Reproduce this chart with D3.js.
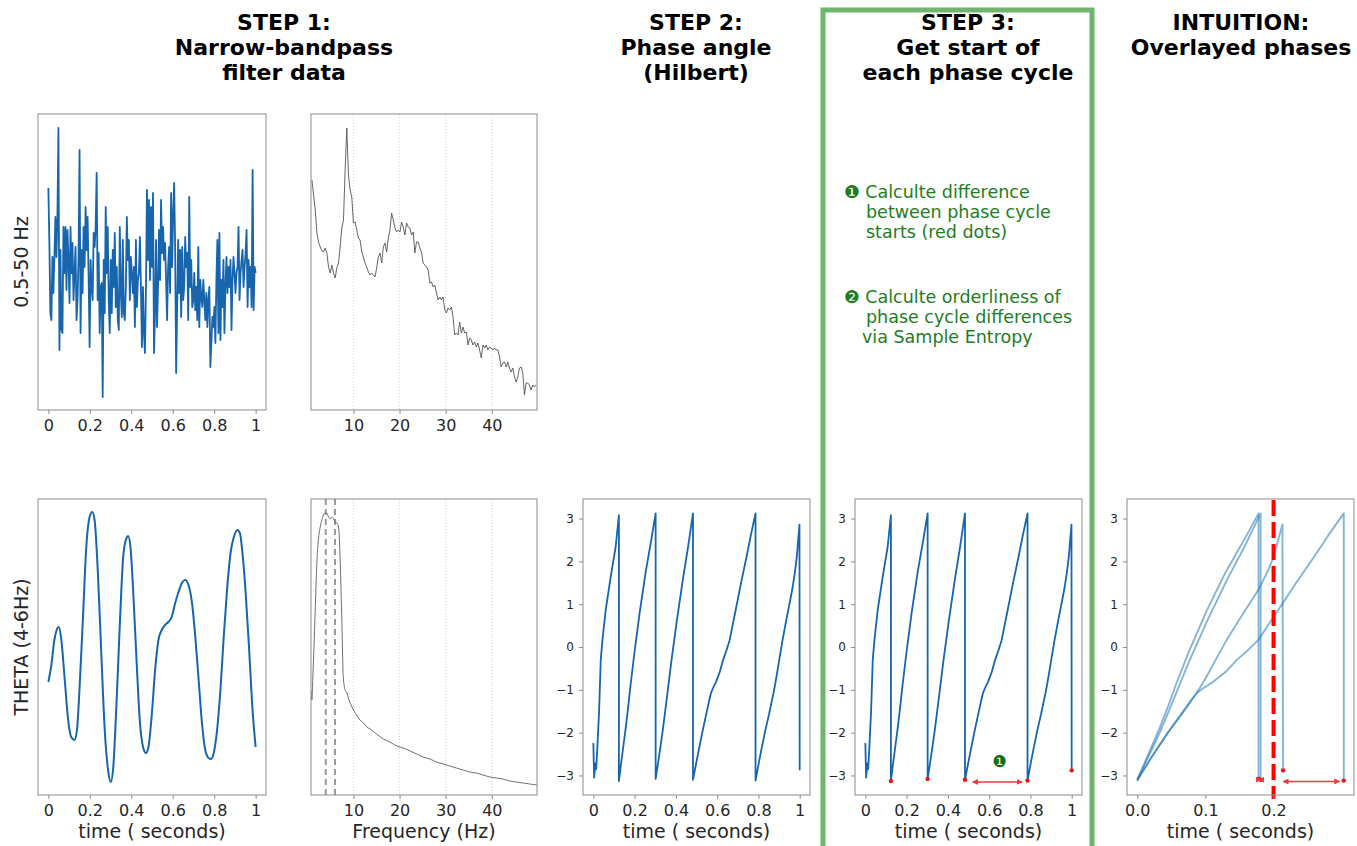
<!DOCTYPE html>
<html>
<head>
<meta charset="utf-8">
<script src="https://cdn.jsdelivr.net/npm/d3@7"></script>
<style>
  body { margin: 0; background: #fff; }
  svg { display: block; font-family: "DejaVu Sans", sans-serif; }
</style>
</head>
<body>
<svg id="fig" width="1357" height="846"></svg>
<script>
// ---------------- data ----------------
// Broadband (0.5-50 Hz) EEG segment, 1 s, microvolts
const broadband = [7.4, 1.9, -5.1, -5.8, 0.5, -3.1, 0.5, 4.5, 0.5, 4.5,
  13.4, -8.8, 1.2, -6.8, -7.1, 3.5, -1.1, 3.5, -2.8, 3.2,
  0.2, -4.1, 3.5, -1.1, 1.9, -3.8, -1.1, 1.5, -5.8, -3.8,
  0.5, 11.2, -7.1, 1.2, -3.1, 3.5, -0.5, 5.5, 1.2, 4.5,
  -1.5, -8.5, 0.2, -2.5, -3.8, 2.9, 1.5, 3.5, 8.9, -3.8,
  0.9, -7.1, -2.5, -2.1, -13.5, 0.2, -5.1, 5.5, -1.1, 3.5,
  -3.8, -7.1, 0.2, -5.1, 1.2, -2.5, 2.9, -4.5, -0.5, -5.8,
  -6.8, 3.5, -3.1, -5.5, 2.2, -5.1, -5.8, -2.5, 4.5, 0.2,
  2.2, -3.8, 0.5, -1.1, -3.1, -0.5, -6.5, 2.2, -4.5, -1.8,
  -1.1, 2.5, -2.5, -8.5, -2.5, -7.1, -9.1, -2.5, 7.2, 0.2,
  6.2, -1.8, 5.5, -0.5, 6.9, -9.1, -5.1, 2.2, -6.5, -2.5,
  3.2, -1.8, 6.2, 0.9, 3.5, 0.2, 1.9, -1.8, -5.8, -0.5,
  1.5, -3.1, 6.9, -0.5, 4.9, 7.9, 1.5, -11.1, -4.5, 2.2,
  -3.1, 1.2, -5.5, 1.5, -3.8, -2.5, 2.5, -0.5, 0.9, -5.8,
  6.5, -2.5, 0.2, -4.5, -3.8, -1.1, -4.8, -2.5, -5.8, 1.5,
  -6.5, -1.8, -3.5, -4.5, -1.8, -3.8, -5.8, -3.1, -6.5, -3.8,
  -2.5, -10.5, -8.1, -5.5, -6.5, -4.5, -8.1, -1.8, 2.2, -7.1,
  2.9, -7.8, -1.8, -4.5, 0.2, -7.1, -2.5, 0.5, -3.1, -0.5,
  -2.5, 0.2, -6.8, -1.8, 0.5, -1.1, -3.1, -1.1, -0.5, 3.5,
  -3.8, -1.1, 0.2, 1.2, -2.5, -0.5, 0.9, 3.2, -4.5, 0.2,
  -2.5, -0.5, -4.5, 9.2, -4.8, -0.5, -1.1];

// Broadband power spectrum (dB, relative), first bin and bin width in Hz
const psdStartHz = 1.0;
const psdStepHz = 0.36;
const broadbandPsd = [23.0, 21.5, 20.0, 17.7, 16.8, 16.3, 15.9, 15.8, 16.2, 15.7,
  14.3, 13.7, 14.5, 13.7, 13.2, 14.2, 14.7, 16.3, 18.2, 19.0,
  24.0, 28.2, 23.5, 22.0, 21.3, 18.7, 18.8, 18.0, 17.2, 17.0,
  15.8, 15.3, 14.7, 14.3, 13.8, 13.5, 13.7, 13.5, 13.3, 14.2,
  15.3, 15.7, 14.7, 16.3, 16.7, 15.8, 17.2, 18.0, 19.7, 19.0,
  18.2, 17.8, 18.0, 17.8, 18.8, 18.3, 17.5, 18.7, 18.3, 18.2,
  17.5, 17.8, 15.7, 16.8, 16.8, 16.2, 15.8, 14.7, 14.5, 14.3,
  14.0, 12.7, 12.8, 12.3, 12.5, 11.7, 11.0, 11.3, 11.0, 11.3,
  10.0, 9.7, 10.2, 10.0, 10.3, 9.3, 7.5, 7.7, 7.5, 8.8,
  7.7, 8.3, 7.7, 7.8, 6.5, 7.2, 7.0, 6.5, 6.8, 6.3,
  6.7, 6.0, 5.2, 6.5, 6.2, 6.5, 6.0, 6.3, 6.2, 6.0,
  6.2, 6.0, 6.0, 5.3, 4.3, 4.7, 4.8, 4.3, 4.8, 4.2,
  3.8, 4.2, 3.3, 2.8, 3.3, 4.2, 4.3, 3.7, 1.5, 2.7,
  2.7, 2.5, 2.0, 2.5, 2.3, 2.5];

// Theta-filtered (4-6 Hz) signal: [time s, amplitude]
const thetaWave = [[0.000, -3.5], [0.013, -2.0], [0.029, 0.7], [0.040, 1.7], [0.050, 2.0],
  [0.061, 1.0], [0.078, -3.0], [0.094, -7.0], [0.110, -9.0], [0.126, -9.3],
  [0.138, -8.3], [0.150, -4.3], [0.167, 3.0], [0.183, 10.0], [0.199, 13.0],
  [0.212, 13.5], [0.223, 12.7], [0.239, 7.4], [0.256, -1.0], [0.272, -8.3],
  [0.288, -12.3], [0.301, -13.5], [0.312, -12.3], [0.328, -6.0], [0.345, 2.4],
  [0.361, 9.0], [0.377, 10.9], [0.385, 11.1], [0.396, 10.0], [0.409, 5.7],
  [0.426, -1.6], [0.442, -7.6], [0.458, -10.1], [0.471, -10.6], [0.482, -10.1],
  [0.498, -7.0], [0.515, -2.3], [0.531, 0.7], [0.547, 1.7], [0.563, 2.2],
  [0.579, 2.5], [0.595, 3.0], [0.612, 4.4], [0.628, 5.5], [0.644, 6.4],
  [0.660, 6.7], [0.676, 6.2], [0.693, 4.4], [0.709, 1.0], [0.725, -3.3],
  [0.741, -7.6], [0.757, -10.3], [0.773, -11.1], [0.785, -11.2], [0.798, -10.6],
  [0.814, -8.3], [0.830, -4.3], [0.846, 1.0], [0.862, 5.7], [0.879, 9.4],
  [0.895, 11.0], [0.911, 11.7], [0.924, 11.4], [0.935, 9.7], [0.951, 5.7],
  [0.968, 0.0], [0.984, -6.0], [1.000, -10.0]];

// Spectrum of the theta-filtered signal: [Hz, dB]
const thetaPsd = [[0.8, 10.5], [1.0, 9.5], [1.2, 11.8], [1.5, 15.5], [1.8, 19.8],
  [2.07, 23.2], [2.4, 25.5], [2.8, 26.8], [3.15, 27.5], [3.5, 28.0],
  [3.9, 28.2], [4.2, 28.2], [4.6, 27.8], [5.0, 27.6], [5.3, 27.8],
  [5.7, 27.6], [6.0, 27.3], [6.4, 27.2], [6.8, 26.7], [7.1, 23.8],
  [7.5, 17.2], [7.8, 11.8], [8.2, 10.5], [8.6, 10.2], [8.9, 9.7],
  [9.3, 9.2], [10.0, 8.5], [10.7, 8.0], [11.4, 7.5], [12.2, 7.2],
  [12.9, 6.8], [13.6, 6.6], [15.0, 6.1], [16.5, 5.6], [17.9, 5.3],
  [19.4, 4.9], [20.8, 4.7], [22.3, 4.4], [23.7, 4.1], [25.1, 3.8],
  [26.6, 3.6], [28.0, 3.3], [29.5, 3.1], [30.9, 2.9], [32.3, 2.7],
  [33.8, 2.5], [35.2, 2.3], [36.7, 2.2], [38.1, 2.0], [39.6, 1.8],
  [41.0, 1.7], [42.4, 1.6], [43.9, 1.4], [45.3, 1.3], [46.8, 1.2],
  [48.2, 1.1], [49.8, 1.0]];
const bandEdgesHz = [4, 6];

// Hilbert phase angle of the theta signal: [time s, radians]
const phaseAngle = [[0.000, -2.24], [0.004, -3.05], [0.010, -2.72], [0.014, -2.85], [0.020, -2.30],
  [0.028, -1.50], [0.036, -0.30], [0.044, 0.15], [0.060, 0.86], [0.084, 1.63],
  [0.108, 2.33], [0.124, 3.08],
  [0.124, -3.13], [0.134, -2.74], [0.144, -2.37], [0.157, -1.89], [0.169, -1.40],
  [0.181, -0.87], [0.199, -0.14], [0.2255, 0.83], [0.254, 1.76], [0.279, 2.45], [0.302, 3.12],
  [0.302, -3.08], [0.312, -2.77], [0.322, -2.44], [0.335, -2.00], [0.347, -1.55],
  [0.360, -1.04], [0.378, -0.34], [0.405, 0.62], [0.434, 1.58], [0.459, 2.33], [0.483, 3.12],
  [0.483, -3.10], [0.503, -2.60], [0.528, -2.00], [0.548, -1.55], [0.563, -1.22],
  [0.570, -1.08], [0.578, -0.98], [0.594, -0.82], [0.613, -0.58], [0.629, -0.30],
  [0.645, -0.08], [0.6605, 0.16], [0.683, 0.70], [0.717, 1.52], [0.743, 2.12],
  [0.763, 2.60], [0.786, 3.12],
  [0.786, -3.12], [0.806, -2.60], [0.831, -2.00], [0.851, -1.58], [0.873, -1.08],
  [0.886, -0.74], [0.901, -0.30], [0.917, 0.16], [0.936, 0.65], [0.9635, 1.33],
  [0.976, 1.72], [0.986, 2.10], [0.992, 2.45], [0.999, 2.86],
  [1.000, -2.88]];

// Annotation positions (data units)
const step3Arrow = { from: 0.52, to: 0.76, level: -3.15 };
const step3Badge = { t: 0.651, v: -2.67, label: "\u2776" };
const intuitionArrows = [{ from: 0.1785, to: 0.1815, level: -3.10 }, { from: 0.214, to: 0.297, level: -3.14 }];
const intuitionMarker = 0.2;

const timeTicks = [0, 0.2, 0.4, 0.6, 0.8, 1];
const freqTicks = [10, 20, 30, 40];
const phaseTicks = [-3, -2, -1, 0, 1, 2, 3];
const overlayTicks = [0, 0.1, 0.2];

const titles = [
  { cx: 284, lines: ["STEP 1:", "Narrow-bandpass", "filter data"] },
  { cx: 696, lines: ["STEP 2:", "Phase angle", "(Hilbert)"] },
  { cx: 968, lines: ["STEP 3:", "Get start of", "each phase cycle"] },
  { cx: 1241, lines: ["INTUITION:", "Overlayed phases"] }
];
const notes = [
  { x: 844, y: 198, text: "\u2776 Calculte difference" },
  { x: 866, y: 218, text: "between phase cycle" },
  { x: 866, y: 238, text: "starts (red dots)" },
  { x: 844, y: 303, text: "\u2777 Calculte orderliness of" },
  { x: 866, y: 323, text: "phase cycle differences" },
  { x: 862, y: 343, text: "via Sample Entropy" }
];

// ---------------- drawing ----------------
const BLUE = "#1665ad";
const FRAME = "#8c8c8c";
const TEXT = "#262626";
const svg = d3.select("#fig");

const defs = svg.append("defs");
defs.append("marker")
  .attr("id", "redhead")
  .attr("viewBox", "0 0 10 10")
  .attr("refX", 9).attr("refY", 5)
  .attr("markerWidth", 6).attr("markerHeight", 6)
  .attr("markerUnits", "userSpaceOnUse")
  .attr("orient", "auto-start-reverse")
  .append("path").attr("d", "M0,0 L10,5 L0,10 z").attr("fill", "#f03a3a");

let clipCount = 0;
function panel(box, xDomain, yDomain) {
  const x = d3.scaleLinear().domain(xDomain).range([box.x0, box.x1]);
  const y = d3.scaleLinear().domain(yDomain).range([box.y1, box.y0]);
  const g = svg.append("g");
  const id = "clip" + (clipCount++);
  defs.append("clipPath").attr("id", id)
    .append("rect").attr("x", box.x0).attr("y", box.y0)
    .attr("width", box.x1 - box.x0).attr("height", box.y1 - box.y0);
  const plot = g.append("g").attr("clip-path", `url(#${id})`);
  return { x, y, g, plot, box };
}

function frame(p) {
  p.g.append("rect")
    .attr("x", p.box.x0).attr("y", p.box.y0)
    .attr("width", p.box.x1 - p.box.x0).attr("height", p.box.y1 - p.box.y0)
    .attr("fill", "none").attr("stroke", FRAME).attr("stroke-width", 1);
}

function xAxis(p, ticks, fmt, size) {
  const ax = p.g.append("g")
    .attr("transform", `translate(0,${p.box.y1})`)
    .call(d3.axisBottom(p.x).tickValues(ticks).tickFormat(fmt).tickSize(4).tickPadding(6));
  ax.select(".domain").remove();
  ax.selectAll(".tick line").attr("stroke", FRAME);
  ax.selectAll(".tick text").attr("fill", TEXT)
    .style("font-size", size + "px").style("font-family", "DejaVu Sans");
}

function yAxis(p, ticks) {
  const ax = p.g.append("g")
    .attr("transform", `translate(${p.box.x0},0)`)
    .call(d3.axisLeft(p.y).tickValues(ticks).tickFormat(d3.format("d")).tickSize(4).tickPadding(5));
  ax.select(".domain").remove();
  ax.selectAll(".tick line").attr("stroke", FRAME);
  ax.selectAll(".tick text").attr("fill", TEXT)
    .style("font-size", "12px").style("font-family", "DejaVu Sans");
}

function xLabel(p, text) {
  p.g.append("text")
    .attr("x", (p.box.x0 + p.box.x1) / 2).attr("y", 838)
    .attr("text-anchor", "middle").attr("fill", TEXT)
    .style("font-size", "19px").text(text);
}

function yLabel(p, text) {
  const cy = (p.box.y0 + p.box.y1) / 2;
  p.g.append("text")
    .attr("transform", `translate(28,${cy}) rotate(-90)`)
    .attr("text-anchor", "middle").attr("fill", TEXT)
    .style("font-size", "19px").text(text);
}

function freqGrid(p) {
  p.plot.selectAll(null).data(freqTicks).join("line")
    .attr("x1", d => p.x(d)).attr("x2", d => p.x(d))
    .attr("y1", p.box.y0).attr("y2", p.box.y1)
    .attr("stroke", "#c4c4c4").attr("stroke-width", 0.8)
    .attr("stroke-dasharray", "1,2");
}

const fmtTime = d3.format("~g");
const timeDomain = [-0.05, 1.05];
const ampDomain = [-14.8, 14.8];
const dbDomain = [0, 29.6];
const freqDomain = [0.8, 49.8];
const phaseDomain = [-3.456, 3.456];

// Top-left: broadband signal
const p1 = panel({ x0: 38, x1: 266, y0: 114, y1: 410 }, timeDomain, ampDomain);
const bbTimes = broadband.map((_, i) => i / (broadband.length - 1));
p1.plot.append("path")
  .datum(broadband)
  .attr("fill", "none").attr("stroke", BLUE).attr("stroke-width", 1.8)
  .attr("stroke-linejoin", "round")
  .attr("d", d3.line().x((d, i) => p1.x(bbTimes[i])).y(d => p1.y(d)));
frame(p1);
xAxis(p1, timeTicks, fmtTime, 16);
yLabel(p1, "0.5-50 Hz");

// Top: broadband spectrum
const p2 = panel({ x0: 311, x1: 537, y0: 114, y1: 410 }, freqDomain, dbDomain);
freqGrid(p2);
p2.plot.append("path")
  .datum(broadbandPsd)
  .attr("fill", "none").attr("stroke", "#555").attr("stroke-width", 0.9)
  .attr("d", d3.line().x((d, i) => p2.x(psdStartHz + i * psdStepHz)).y(d => p2.y(d)));
frame(p2);
xAxis(p2, freqTicks, d3.format("d"), 16);

// Bottom-left: theta-filtered signal
const p3 = panel({ x0: 38, x1: 266, y0: 499, y1: 795 }, timeDomain, ampDomain);
p3.plot.append("path")
  .datum(thetaWave)
  .attr("fill", "none").attr("stroke", BLUE).attr("stroke-width", 2)
  .attr("d", d3.line().curve(d3.curveMonotoneX).x(d => p3.x(d[0])).y(d => p3.y(d[1])));
frame(p3);
xAxis(p3, timeTicks, fmtTime, 16);
xLabel(p3, "time ( seconds)");
yLabel(p3, "THETA (4-6Hz)");

// Bottom: theta spectrum with band edges
const p4 = panel({ x0: 311, x1: 537, y0: 499, y1: 795 }, freqDomain, dbDomain);
freqGrid(p4);
p4.plot.selectAll(null).data(bandEdgesHz).join("line")
  .attr("x1", d => p4.x(d)).attr("x2", d => p4.x(d))
  .attr("y1", p4.box.y0).attr("y2", p4.box.y1)
  .attr("stroke", "#9a9a9a").attr("stroke-width", 2)
  .attr("stroke-dasharray", "6,4");
p4.plot.append("path")
  .datum(thetaPsd)
  .attr("fill", "none").attr("stroke", "#707070").attr("stroke-width", 1)
  .attr("d", d3.line().curve(d3.curveMonotoneX).x(d => p4.x(d[0])).y(d => p4.y(d[1])));
frame(p4);
xAxis(p4, freqTicks, d3.format("d"), 16);
xLabel(p4, "Frequency (Hz)");

// Cycle starts: first sample after each wrap of the phase
const cycleStarts = [];
phaseAngle.forEach((d, i) => {
  if (i > 0 && phaseAngle[i - 1][1] - d[1] > 4) cycleStarts.push(i);
});

function phasePanel(x0) {
  const p = panel({ x0: x0, x1: x0 + 227, y0: 499, y1: 795 }, timeDomain, phaseDomain);
  p.plot.append("path")
    .datum(phaseAngle)
    .attr("fill", "none").attr("stroke", BLUE).attr("stroke-width", 1.8)
    .attr("stroke-linejoin", "round")
    .attr("d", d3.line().x(d => p.x(d[0])).y(d => p.y(d[1])));
  return p;
}

function redArrow(p, a) {
  p.g.append("line")
    .attr("x1", p.x(a.from)).attr("x2", p.x(a.to))
    .attr("y1", p.y(a.level)).attr("y2", p.y(a.level))
    .attr("stroke", "#f03a3a").attr("stroke-width", 1.5)
    .attr("marker-start", "url(#redhead)").attr("marker-end", "url(#redhead)");
}

// Step 2
const p5 = phasePanel(583);
frame(p5);
xAxis(p5, timeTicks, fmtTime, 16);
yAxis(p5, phaseTicks);
xLabel(p5, "time ( seconds)");

// Step 3
const p6 = phasePanel(855);
p6.g.selectAll(null).data(cycleStarts.map(i => phaseAngle[i])).join("circle")
  .attr("cx", d => p6.x(d[0])).attr("cy", d => p6.y(d[1]))
  .attr("r", 2.2).attr("fill", "#e8141a");
redArrow(p6, step3Arrow);
p6.g.append("text")
  .attr("x", p6.x(step3Badge.t)).attr("y", p6.y(step3Badge.v))
  .attr("dy", "0.36em").attr("text-anchor", "middle")
  .attr("fill", "#0b6e0b").style("font-size", "16px").text(step3Badge.label);
frame(p6);
xAxis(p6, timeTicks, fmtTime, 16);
yAxis(p6, phaseTicks);
xLabel(p6, "time ( seconds)");

// Intuition: each complete cycle re-aligned to its own start
const overlays = [];
for (let k = 0; k < cycleStarts.length - 1; k++) {
  const s = cycleStarts[k], e = cycleStarts[k + 1];
  const t0 = phaseAngle[s][0];
  overlays.push(phaseAngle.slice(s, e + 1).map(d => [d[0] - t0, d[1]]));
}
const p7 = panel({ x0: 1127, x1: 1354, y0: 499, y1: 795 }, [-0.015, 0.318], phaseDomain);
p7.plot.selectAll(null).data(overlays).join("path")
  .attr("fill", "none").attr("stroke", "#1f77b4").attr("stroke-opacity", 0.55)
  .attr("stroke-width", 1.9).attr("stroke-linejoin", "round")
  .attr("d", d3.line().x(d => p7.x(d[0])).y(d => p7.y(d[1])));
p7.g.selectAll(null).data(overlays.map(c => c[c.length - 1])).join("circle")
  .attr("cx", d => p7.x(d[0])).attr("cy", d => p7.y(d[1]))
  .attr("r", 2.2).attr("fill", "#e8141a");
intuitionArrows.forEach(a => redArrow(p7, a));
p7.g.append("line")
  .attr("x1", p7.x(intuitionMarker)).attr("x2", p7.x(intuitionMarker))
  .attr("y1", p7.box.y0 + 1).attr("y2", p7.box.y1 + 4)
  .attr("stroke", "#ff0000").attr("stroke-width", 4)
  .attr("stroke-dasharray", "16,6");
frame(p7);
xAxis(p7, overlayTicks, d3.format(".1f"), 16);
yAxis(p7, phaseTicks);
xLabel(p7, "time ( seconds)");

// Step 3 highlight box
svg.append("rect")
  .attr("x", 823).attr("y", 10).attr("width", 269).attr("height", 850)
  .attr("fill", "none").attr("stroke", "#6fb46f").attr("stroke-width", 5);

// Column titles
titles.forEach(t => {
  const txt = svg.append("text")
    .attr("text-anchor", "middle").attr("fill", "#000")
    .style("font-size", "22px").style("font-weight", "bold");
  t.lines.forEach((line, i) => {
    txt.append("tspan").attr("x", t.cx).attr("y", 30 + i * 25).text(line);
  });
});

// Step 3 notes
svg.selectAll(null).data(notes).join("text")
  .attr("x", d => d.x).attr("y", d => d.y)
  .attr("fill", "#1e7d1e").style("font-size", "17.5px")
  .text(d => d.text);
</script>
</body>
</html>
